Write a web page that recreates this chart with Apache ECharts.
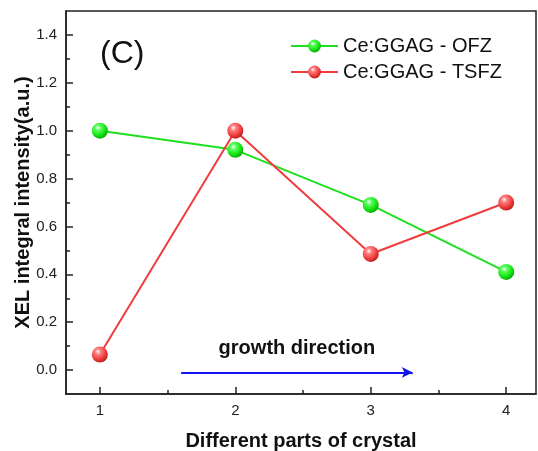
<!DOCTYPE html>
<html lang="en">
<head>
    <meta charset="UTF-8">
    <title>XEL integral intensity</title>
    <style>
        html, body { margin: 0; padding: 0; background: #fff; }
        #chart { width: 538px; height: 451px; }
    </style>
</head>
<body>
    <div id="chart"></div>
<script src="https://cdn.jsdelivr.net/npm/echarts@6/dist/echarts.min.js"></script>
<script>
    // data
    const parts = [1, 2, 3, 4]
    const ofz = [1.0, 0.92, 0.69, 0.41]
    const tsfz = [0.065, 1.0, 0.485, 0.70]
    const xTicks = [1, 2, 3, 4]
    const xMinor = [1.5, 2.5, 3.5]
    const yTicks = [0.0, 0.2, 0.4, 0.6, 0.8, 1.0, 1.2, 1.4]
    const yMinor = [0.1, 0.3, 0.5, 0.7, 0.9, 1.1, 1.3]
    const arrowFrom = [1.6, -0.01]
    const arrowTo = [3.31, -0.01]

    const font = '"Liberation Sans", Arial, sans-serif'
    const axisColor = '#222'

    // shiny ball marker
    function ball(light, base, dark) {
        return {
            type: 'radial', x: 0.38, y: 0.32, r: 0.7,
            colorStops: [
                { offset: 0, color: '#ffffff' },
                { offset: 0.25, color: light },
                { offset: 0.7, color: base },
                { offset: 1, color: dark }
            ]
        }
    }

    const chart = echarts.init(document.getElementById('chart'))

    chart.setOption({
        animation: false,
        textStyle: { fontFamily: font },
        grid: {
            left: 66, right: 2, top: 11, bottom: 57,
            outerBoundsMode: 'none', containLabel: false,
            show: true, borderColor: axisColor, borderWidth: 1.5
        },
        legend: {
            orient: 'vertical',
            left: 290, top: 36, padding: 0,
            itemWidth: 47, itemHeight: 16, itemGap: 6,
            textStyle: { fontSize: 20, color: '#111', fontFamily: font },
            data: ['Ce:GGAG - OFZ', 'Ce:GGAG - TSFZ']
        },
        graphic: [{
            type: 'text', left: 100, top: 38,
            style: { text: '(C)', fontSize: 32, fill: '#111', fontFamily: font }
        }],
        xAxis: [{
            type: 'value', min: 0.75, max: 4.22,
            name: 'Different parts of crystal', nameLocation: 'middle', nameGap: 37,
            nameTextStyle: { fontSize: 20, fontWeight: 'bold', color: '#111' },
            axisLine: { onZero: false, lineStyle: { color: axisColor, width: 1.5 } },
            axisTick: { inside: true, length: 7, customValues: xTicks, lineStyle: { color: axisColor, width: 1.5 } },
            axisLabel: { customValues: xTicks, fontSize: 15, color: '#222', margin: 9 },
            splitLine: { show: false }
        }, {
            type: 'value', min: 0.75, max: 4.22, position: 'bottom',
            axisLine: { show: false, onZero: false },
            axisTick: { inside: true, length: 4, customValues: xMinor, lineStyle: { color: axisColor, width: 1.5 } },
            axisLabel: { show: false },
            splitLine: { show: false }
        }],
        yAxis: [{
            type: 'value', min: -0.1, max: 1.5,
            name: 'XEL integral intensity(a.u.)', nameLocation: 'middle', nameGap: 33,
            nameMoveOverlap: false,
            nameTextStyle: { fontSize: 20, fontWeight: 'bold', color: '#111' },
            axisLine: { show: true, onZero: false, lineStyle: { color: axisColor, width: 1.5 } },
            axisTick: { show: true, inside: true, length: 7, customValues: yTicks, lineStyle: { color: axisColor, width: 1.5 } },
            axisLabel: {
                customValues: yTicks, fontSize: 15, color: '#222', margin: 9,
                formatter: v => v.toFixed(1)
            },
            splitLine: { show: false }
        }, {
            type: 'value', min: -0.1, max: 1.5, position: 'left',
            axisLine: { show: false, onZero: false },
            axisTick: { show: true, inside: true, length: 4, customValues: yMinor, lineStyle: { color: axisColor, width: 1.5 } },
            axisLabel: { show: false },
            splitLine: { show: false }
        }],
        series: [{
            name: 'Ce:GGAG - OFZ',
            type: 'line',
            data: parts.map((p, i) => [p, ofz[i]]),
            symbol: 'circle', symbolSize: 16,
            lineStyle: { color: '#1fe01f', width: 2 },
            itemStyle: { color: ball('#5cff5c', '#10e010', '#0aa80a') },
            z: 3
        }, {
            name: 'Ce:GGAG - TSFZ',
            type: 'line',
            data: parts.map((p, i) => [p, tsfz[i]]),
            symbol: 'circle', symbolSize: 16,
            lineStyle: { color: '#f03c3c', width: 2 },
            itemStyle: { color: ball('#ff8080', '#ee3a3a', '#b82020') },
            z: 4
        }, {
            name: 'arrow',
            type: 'line',
            data: [],
            markLine: {
                silent: true,
                symbol: ['none', 'arrow'],
                symbolSize: [8, 11],
                lineStyle: { color: '#1414ee', width: 2, type: 'solid' },
                label: {
                    show: true, position: 'middle', distance: 14,
                    formatter: 'growth direction',
                    fontSize: 20, fontWeight: 'bold', color: '#111', fontFamily: font
                },
                data: [[{ coord: arrowFrom }, { coord: arrowTo }]]
            }
        }]
    })
</script>
</body>
</html>
